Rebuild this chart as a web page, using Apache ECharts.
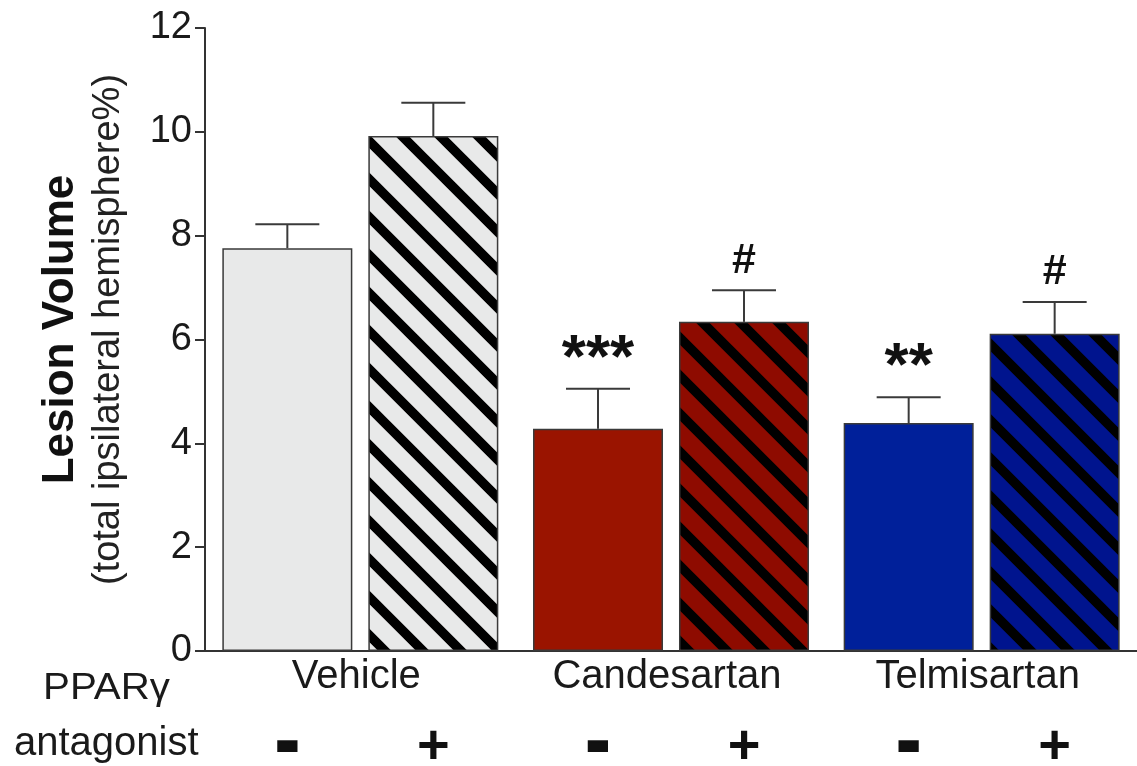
<!DOCTYPE html>
<html>
<head>
<meta charset="utf-8">
<script src="https://cdn.jsdelivr.net/npm/echarts@6/dist/echarts.min.js"></script>
<style>
  html, body { margin: 0; padding: 0; background: #fff; }
  #chart { width: 1137px; height: 766px; }
</style>
</head>
<body>
<div id="chart"></div>
<script>
// groups on the x axis
var groups = ['Vehicle', 'Candesartan', 'Telmisartan']
// y ticks
var yTicks = [0, 2, 4, 6, 8, 10, 12]

// antagonist "-" bars: mean and mean + SEM
var minusMean = [7.76, 4.28, 4.39]
var minusUpper = [8.22, 5.05, 4.89]
var minusMarks = ['', '***', '**']

// antagonist "+" bars
var plusMean = [9.92, 6.34, 6.11]
var plusUpper = [10.56, 6.95, 6.72]
var plusMarks = ['', '#', '#']

var minusColors = ['#e8e9e9', '#9a1400', '#00209a']
var plusColors = ['#e8e9e9', '#8e0b00', '#00148e']

var FONT = '"Liberation Sans", Arial, sans-serif'
var BAR_W = 130
var BAR_GAP = '12.3%'

// diagonal "\" hatch on top of the base colour
function stripes (base) {
  let size = 38
  let c = document.createElement('canvas')
  c.width = size
  c.height = size
  let ctx = c.getContext('2d')
  ctx.fillStyle = base
  ctx.fillRect(0, 0, size, size)
  ctx.strokeStyle = '#000'
  ctx.lineWidth = 9.5
  ctx.beginPath()
  for (let k = -1; k <= 1; k++) {
    ctx.moveTo(k * size - size, -size)
    ctx.lineTo(k * size + 2 * size, 2 * size)
  }
  ctx.stroke()
  return {image: c, repeat: 'repeat'}
}

function errorSeries (idx, means, uppers, marks) {
  let data = means.map(function (m, i) { return [i, m, uppers[i]] })
  return {
    type: 'custom',
    z: 5,
    silent: true,
    data: data,
    renderItem: function (params, api) {
      let layout = api.barLayout({barWidth: BAR_W, barGap: BAR_GAP, count: 2})
      let lo = api.coord([api.value(0), api.value(1)])
      let hi = api.coord([api.value(0), api.value(2)])
      let x = lo[0] + layout[idx].offsetCenter
      let style = {stroke: '#3a3a3a', lineWidth: 2}
      let children = [
        {type: 'line', shape: {x1: x, y1: lo[1], x2: x, y2: hi[1]}, style: style},
        {type: 'line', shape: {x1: x - 32, y1: hi[1], x2: x + 32, y2: hi[1]}, style: style}
      ]
      let mark = marks[params.dataIndex]
      if (mark) {
        let isStar = mark.indexOf('*') >= 0
        children.push({
          type: 'text',
          style: {
            text: mark,
            x: x,
            y: hi[1] - (isStar ? -2 : 8),
            align: 'center',
            verticalAlign: 'bottom',
            font: 'bold ' + (isStar ? 62 : 43) + 'px ' + FONT,
            fill: '#111'
          }
        })
      }
      return {type: 'group', children: children}
    }
  }
}

let chartDom = document.getElementById('chart')
let myChart = echarts.init(chartDom)

let option = {
  animation: false,
  grid: {left: 205, top: 28, bottom: 115, width: 935},
  xAxis: {
    type: 'category',
    data: groups,
    axisTick: {show: false},
    axisLine: {lineStyle: {color: '#333', width: 2}},
    axisLabel: {
      color: '#1a1a1a',
      fontSize: 40,
      fontFamily: FONT,
      margin: 6,
      padding: [0, 8, 0, 0]
    }
  },
  yAxis: {
    type: 'value',
    min: yTicks[0],
    max: yTicks[yTicks.length - 1],
    interval: 2,
    splitLine: {show: false},
    axisLine: {show: true, lineStyle: {color: '#333', width: 2}},
    axisTick: {show: true, length: 10, lineStyle: {color: '#333', width: 2}},
    axisLabel: {color: '#1a1a1a', fontSize: 38, fontFamily: FONT, margin: 13},
    name: '{a|Lesion Volume}\n{b|(total ipsilateral hemisphere%)}',
    nameLocation: 'middle',
    nameRotate: 90,
    nameGap: 74,
    nameTextStyle: {
      color: '#111',
      fontFamily: FONT,
      padding: [0, 0, 0, 20],
      rich: {
        a: {fontSize: 44, fontWeight: 'bold', fontFamily: FONT, lineHeight: 52, color: '#111'},
        b: {fontSize: 38, fontFamily: FONT, lineHeight: 44, color: '#222'}
      }
    }
  },
  graphic: [
    {type: 'text', left: 43, top: 671, scaleX: 1.12, style: {text: 'PPARγ', font: '36px ' + FONT, fill: '#1a1a1a'}},
    {type: 'text', left: 14, top: 724, style: {text: 'antagonist', font: '40px ' + FONT, fill: '#1a1a1a'}}
  ],
  series: [
    {
      type: 'bar',
      name: '-',
      barWidth: BAR_W,
      barGap: BAR_GAP,
      data: minusMean.map(function (v, i) {
        return {value: v, itemStyle: {color: minusColors[i]}}
      }),
      itemStyle: {borderColor: '#3a3a3a', borderWidth: 1.5},
      label: {
        show: true,
        position: 'bottom',
        distance: 62,
        formatter: '-',
        fontFamily: FONT,
        fontWeight: 'bold',
        fontSize: 64,
        color: '#111',
        textBorderColor: '#111',
        textBorderWidth: 4
      }
    },
    {
      type: 'bar',
      name: '+',
      barWidth: BAR_W,
      barGap: BAR_GAP,
      data: plusMean.map(function (v, i) {
        return {value: v, itemStyle: {color: stripes(plusColors[i])}}
      }),
      itemStyle: {borderColor: '#3a3a3a', borderWidth: 1.5},
      label: {
        show: true,
        position: 'bottom',
        distance: 69,
        formatter: '+',
        fontFamily: FONT,
        fontWeight: 'bold',
        fontSize: 56,
        color: '#111'
      }
    },
    errorSeries(0, minusMean, minusUpper, minusMarks),
    errorSeries(1, plusMean, plusUpper, plusMarks)
  ]
}
myChart.setOption(option)
</script>
</body>
</html>
